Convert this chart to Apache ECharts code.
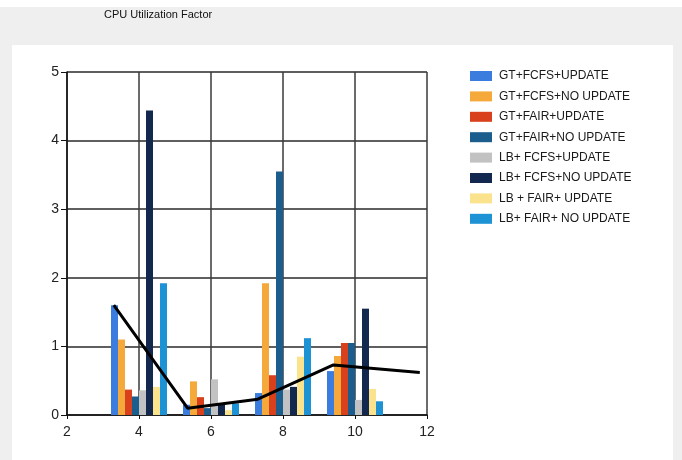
<!DOCTYPE html>
<html>
<head>
<meta charset="utf-8">
<script src="https://cdn.jsdelivr.net/npm/echarts@6/dist/echarts.min.js"></script>
<style>
html,body{margin:0;padding:0;background:#fff;}
#c{width:682px;height:460px;}
</style>
</head>
<body>
<div id="c"></div>
<script>
// Group positions on the x axis
const groupX = [4, 6, 8, 10];
const xTicks = [2, 4, 6, 8, 10, 12];
const yTicks = [0, 1, 2, 3, 4, 5];

const seriesNames = [
  'GT+FCFS+UPDATE',
  'GT+FCFS+NO UPDATE',
  'GT+FAIR+UPDATE',
  'GT+FAIR+NO UPDATE',
  'LB+ FCFS+UPDATE',
  'LB+ FCFS+NO UPDATE',
  'LB + FAIR+ UPDATE',
  'LB+ FAIR+ NO UPDATE'
];

const gtFcfsUpdate   = [1.60, 0.15, 0.32, 0.64];
const gtFcfsNoUpdate = [1.10, 0.49, 1.92, 0.86];
const gtFairUpdate   = [0.37, 0.26, 0.58, 1.05];
const gtFairNoUpdate = [0.27, 0.10, 3.55, 1.05];
const lbFcfsUpdate   = [0.36, 0.52, 0.37, 0.22];
const lbFcfsNoUpdate = [4.44, 0.15, 0.41, 1.55];
const lbFairUpdate   = [0.41, 0.07, 0.85, 0.38];
const lbFairNoUpdate = [1.92, 0.17, 1.12, 0.20];

// Black line series (x, y)
const lineX = [3.3, 5.35, 7.3, 9.4, 11.8];
const lineY = [1.60, 0.10, 0.23, 0.73, 0.62];

const seriesValues = [gtFcfsUpdate, gtFcfsNoUpdate, gtFairUpdate, gtFairNoUpdate,
  lbFcfsUpdate, lbFcfsNoUpdate, lbFairUpdate, lbFairNoUpdate];
const colors = ['#3a7ddf', '#f5a93b', '#d8411b', '#1b5d8c', '#c2c2c2', '#13284e', '#fbe28c', '#1d93d5'];

const chart = echarts.init(document.getElementById('c'), null, {renderer: 'canvas'});

const barSeries = seriesNames.map((name, i) => ({
  name: name,
  type: 'bar',
  barWidth: 7,
  barGap: '0%',
  itemStyle: {color: colors[i]},
  data: groupX.map((x, j) => [x, seriesValues[i][j]]),
  z: 2
}));

const lineSeries = {
  name: 'line',
  type: 'line',
  showSymbol: false,
  symbol: 'none',
  lineStyle: {color: '#000', width: 3},
  itemStyle: {color: '#000'},
  data: lineX.map((x, i) => [x, lineY[i]]),
  z: 5
};

chart.setOption({
  animation: false,
  textStyle: {fontFamily: 'Liberation Sans, Arial, sans-serif'},
  graphic: [
    {type: 'rect', z: -10, shape: {x: 0, y: 7, width: 682, height: 453}, style: {fill: '#efefef'}},
    {type: 'rect', z: -9, shape: {x: 12, y: 45, width: 661, height: 415}, style: {fill: '#ffffff'}},
    {type: 'text', z: 10, left: 104, top: 9,
      style: {text: 'CPU Utilization Factor', fontSize: 11, fill: '#111', fontFamily: 'Liberation Sans, Arial, sans-serif'}}
  ],
  legend: {
    data: seriesNames,
    orient: 'vertical',
    left: 470,
    top: 70,
    padding: 0,
    itemWidth: 22,
    itemHeight: 10,
    itemGap: 8.4,
    icon: 'rect',
    textStyle: {fontSize: 12, color: '#1a1a1a', padding: [0, 0, 0, 2]}
  },
  grid: {left: 67, right: 255, top: 72, bottom: 45, containLabel: false},
  xAxis: {
    type: 'value',
    min: 2, max: 12, interval: 2,
    axisLine: {show: true, lineStyle: {color: '#111', width: 1.5}},
    axisTick: {show: true, length: 4, lineStyle: {color: '#111'}},
    axisLabel: {fontSize: 14, color: '#222', margin: 10},
    splitLine: {show: true, lineStyle: {color: '#3a3a3a', width: 1.5}}
  },
  yAxis: {
    type: 'value',
    min: 0, max: 5, interval: 1,
    axisLine: {show: true, lineStyle: {color: '#111', width: 1.5}},
    axisTick: {show: true, length: 6, lineStyle: {color: '#111'}},
    axisLabel: {fontSize: 14, color: '#222', margin: 8},
    splitLine: {show: true, lineStyle: {color: '#2a2a2a', width: 1.5}}
  },
  series: barSeries.concat([lineSeries])
});
</script>
</body>
</html>
